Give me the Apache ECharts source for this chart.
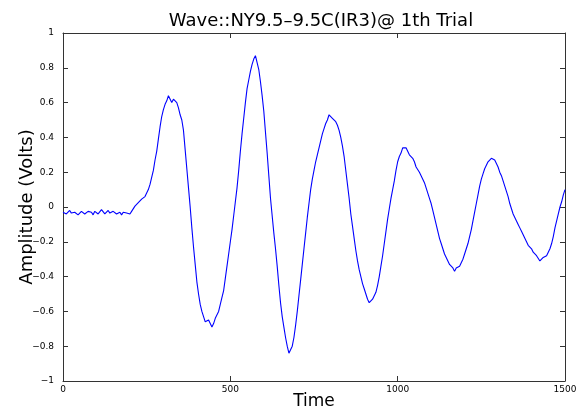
<!DOCTYPE html>
<html><head><meta charset="utf-8">
<script src="https://cdn.jsdelivr.net/npm/echarts@6/dist/echarts.min.js"></script>
<style>html,body{margin:0;padding:0;background:#fff}#c{width:583px;height:413px}</style>
</head><body><div id="c"></div>
<script>
var titleText = 'Wave::NY9.5\u20139.5C(IR3)@ 1th Trial';
var xName = 'Time';
var yName = 'Amplitude (Volts)';
var sampleStep = 5;
var amplitude = [
-0.03,-0.025,-0.04,-0.03,-0.02,-0.035,-0.03,-0.03,-0.025,-0.045,
-0.035,-0.025,-0.03,-0.04,-0.03,-0.025,-0.035,-0.03,-0.045,-0.025,
-0.03,-0.04,-0.03,-0.015,-0.02,-0.04,-0.03,-0.02,-0.035,-0.04,
-0.025,-0.015,-0.04,-0.03,-0.03,-0.045,-0.03,-0.025,-0.035,-0.045,
-0.04,-0.025,-0.02,0.005,0.0,0.025,0.02,0.045,0.04,0.06,
0.07,0.1,0.13,0.17,0.21,0.27,0.32,0.39,0.46,0.52,
0.56,0.59,0.61,0.64,0.63,0.6,0.62,0.63,0.6,0.57,
0.53,0.5,0.44,0.33,0.22,0.11,0.0,-0.12,-0.23,-0.33,
-0.43,-0.5,-0.56,-0.6,-0.63,-0.66,-0.67,-0.65,-0.66,-0.69,
-0.67,-0.64,-0.63,-0.6,-0.56,-0.52,-0.48,-0.41,-0.34,-0.27,
-0.2,-0.13,-0.05,0.03,0.11,0.21,0.32,0.42,0.51,0.6,
0.68,0.73,0.78,0.82,0.85,0.87,0.83,0.79,0.72,0.64,
0.55,0.43,0.31,0.18,0.05,-0.05,-0.15,-0.24,-0.34,-0.45,
-0.55,-0.63,-0.69,-0.75,-0.8,-0.84,-0.82,-0.8,-0.75,-0.68,
-0.6,-0.51,-0.42,-0.33,-0.24,-0.15,-0.06,0.02,0.1,0.16,
0.21,0.26,0.3,0.34,0.38,0.42,0.45,0.48,0.5,0.53,
0.52,0.51,0.5,0.49,0.47,0.44,0.4,0.35,0.29,0.21,
0.13,0.05,-0.04,-0.11,-0.18,-0.25,-0.31,-0.36,-0.4,-0.44,
-0.47,-0.5,-0.53,-0.55,-0.54,-0.53,-0.52,-0.49,-0.45,-0.4,
-0.34,-0.28,-0.21,-0.14,-0.07,-0.01,0.05,0.1,0.15,0.21,
0.26,0.29,0.31,0.34,0.33,0.34,0.32,0.3,0.29,0.28,
0.26,0.23,0.22,0.2,0.18,0.16,0.14,0.11,0.08,0.05,
0.02,-0.02,-0.06,-0.1,-0.14,-0.18,-0.21,-0.24,-0.27,-0.29,
-0.31,-0.33,-0.34,-0.35,-0.37,-0.35,-0.35,-0.34,-0.32,-0.3,
-0.27,-0.24,-0.21,-0.17,-0.13,-0.08,-0.03,0.02,0.07,0.12,
0.16,0.19,0.22,0.24,0.26,0.27,0.28,0.29,0.27,0.25,
0.23,0.2,0.18,0.15,0.12,0.09,0.06,0.02,-0.01,-0.04,
-0.06,-0.08,-0.1,-0.12,-0.14,-0.16,-0.18,-0.2,-0.22,-0.23,
-0.24,-0.26,-0.27,-0.28,-0.29,-0.31,-0.3,-0.29,-0.29,-0.28,
-0.27,-0.24,-0.21,-0.17,-0.12,-0.08,-0.04,0.0,0.03,0.07,
0.1
];
var xTicks = [0, 500, 1000, 1500];
var yTicks = [-1, -0.8, -0.6, -0.4, -0.2, 0, 0.2, 0.4, 0.6, 0.8, 1];

var data = amplitude.map(function(v, i){ return [i * sampleStep, v]; });
function fmtY(v){ return String(Math.round(v*10)/10).replace('-', '\u2212'); }
function fmtX(v){ return String(v); }
var axisCol = '#333';
var FONT = 'DejaVu Sans';
var chart = echarts.init(document.getElementById('c'), null, {renderer:'canvas'});
chart.setOption({
  animation:false,
  backgroundColor:'#fff',
  title:{text:titleText,left:316,top:7,textAlign:'center',
    textStyle:{fontFamily:FONT,fontSize:18,fontWeight:'normal',color:'#000'}},
  grid:{left:63,right:18,top:33,bottom:32,containLabel:false,outerBoundsMode:'none'},
  xAxis:[{type:'value',min:xTicks[0],max:xTicks[xTicks.length-1],interval:500,position:'bottom',
    name:xName,nameLocation:'middle',nameGap:12,nameMoveOverlap:false,
    nameTextStyle:{fontFamily:FONT,fontSize:17,color:'#000',verticalAlign:'top'},
    axisLine:{show:true,onZero:false,lineStyle:{color:axisCol,width:1}},
    axisTick:{show:true,inside:true,length:5,lineStyle:{color:axisCol}},
    axisLabel:{fontFamily:FONT,fontSize:9,color:'#000',margin:4,formatter:fmtX},
    splitLine:{show:false}},
   {type:'value',min:xTicks[0],max:xTicks[xTicks.length-1],interval:500,position:'top',
    axisLine:{show:true,onZero:false,lineStyle:{color:axisCol,width:1}},
    axisTick:{show:true,inside:true,length:5,lineStyle:{color:axisCol}},
    axisLabel:{show:false},splitLine:{show:false}}],
  yAxis:[{type:'value',min:yTicks[0],max:yTicks[yTicks.length-1],interval:0.2,position:'left',
    name:yName,nameLocation:'middle',nameGap:27,nameRotate:90,nameMoveOverlap:false,
    nameTextStyle:{fontFamily:FONT,fontSize:18,color:'#000'},
    axisLine:{show:true,onZero:false,lineStyle:{color:axisCol,width:1}},
    axisTick:{show:true,inside:true,length:5,lineStyle:{color:axisCol}},
    axisLabel:{fontFamily:FONT,fontSize:9,color:'#000',margin:9,formatter:fmtY},
    splitLine:{show:false}},
   {type:'value',min:yTicks[0],max:yTicks[yTicks.length-1],interval:0.2,position:'right',
    axisLine:{show:true,onZero:false,lineStyle:{color:axisCol,width:1}},
    axisTick:{show:true,inside:true,length:5,lineStyle:{color:axisCol}},
    axisLabel:{show:false},splitLine:{show:false}}],
  series:[{type:'line',data:data,xAxisIndex:0,yAxisIndex:0,showSymbol:false,symbol:'none',
    lineStyle:{color:'#0000ff',width:1.1},smooth:false}]
});
</script></body></html>
